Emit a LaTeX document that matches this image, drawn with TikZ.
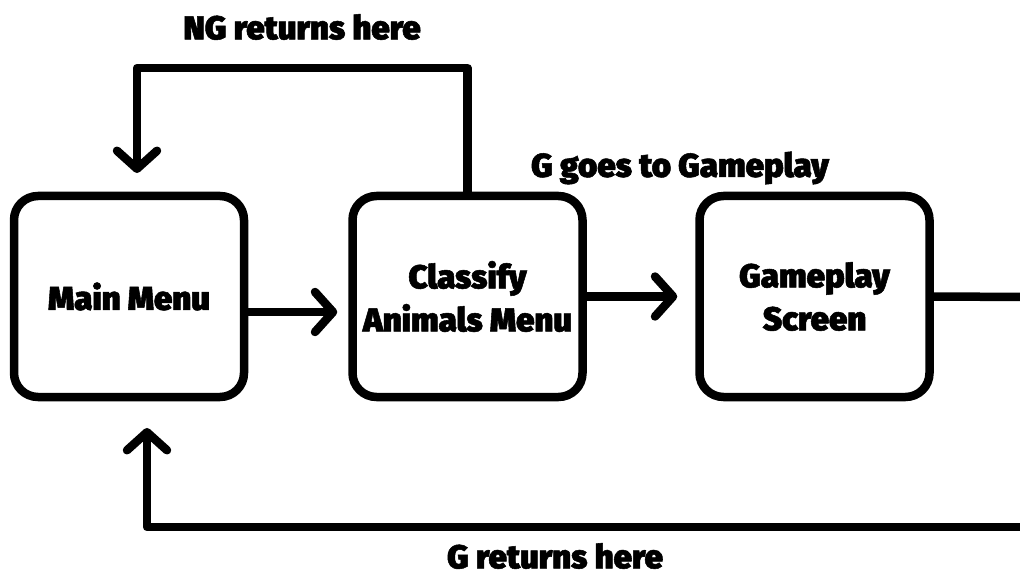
\documentclass[tikz,border=0pt]{standalone}
\usepackage{fontspec}
\setmainfont{Fira Sans Black}[BoldFont={Fira Sans Black},BoldFeatures={FakeBold=1.6}]
\usetikzlibrary{arrows.meta}
\begin{document}
\begin{tikzpicture}[x=1pt,y=-1pt,
  screen/.style={draw, line width=8.5pt, rounded corners=24pt,
    minimum width=230pt, minimum height=201pt, align=center,
    font=\bfseries\fontsize{33}{43}\selectfont},
  link/.style={line width=8.5pt, line cap=round, line join=round},
  arr/.style={link, -{Straight Barb[length=18pt,width=40pt,round]}},
  caption/.style={inner sep=0pt, font=\bfseries\fontsize{33}{36}\selectfont}]
\useasboundingbox (0,0) rectangle (1020,577);
\fill[white] (0,0) rectangle (1020,577);

% screens
\node[screen] (main) at (129,296.5) {Main Menu};
\node[screen] (classify) at (467.5,296.5) {Classify\\Animals Menu};
\node[screen] (game) at (814.5,296.5) {Gameplay\\Screen};

% loose ends of the return paths
\coordinate (ngturn) at (137,68);
\coordinate (ngtip) at (137,173);
\coordinate (exit) at (1026,297);
\coordinate (gturn) at (147,527);
\coordinate (gtip) at (147,428);
\coordinate (gout) at (1026,527);

% forward flow
\draw[arr] ([yshift=-15.5pt]main.east) -- ([xshift=-11pt,yshift=-15.5pt]classify.west);
\draw[arr] (classify.east) -- ([xshift=-18pt]game.west);
\draw[link] (game.east) -- (exit);

% return paths
\draw[arr] (classify.north) |- (ngturn) -- (ngtip);
\draw[arr] (gout) -- (gturn) -- (gtip);

% captions
\node[caption] (ng) at (302,27) {NG returns here};
\node[caption] (gg) at (680,168) {G goes to Gameplay};
\node[caption] (gr) at (555,556) {G returns here};
\end{tikzpicture}
\end{document}
